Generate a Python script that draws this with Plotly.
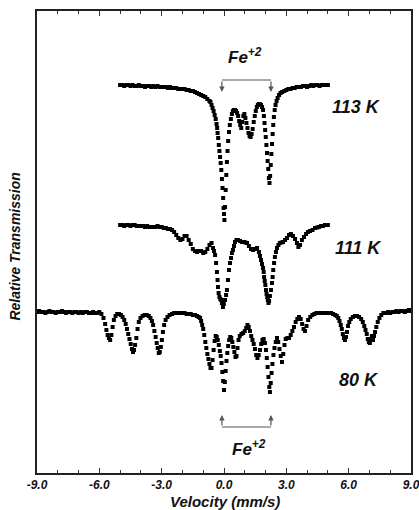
import plotly.graph_objects as go

# ---------------- data (velocity in mm/s, relative transmission in %) -------------
v113 = [-5.0,-4.9,-4.8,-4.7,-4.6,-4.5,-4.4,-4.3,-4.2,-4.1,-4.0,-3.9,-3.8,-3.7,-3.6,-3.5,-3.4,-3.3,-3.2,-3.1,
        -3.0,-2.9,-2.8,-2.7,-2.6,-2.5,-2.4,-2.3,-2.2,-2.1,-2.0,-1.9,-1.8,-1.7,-1.6,-1.5,-1.4,-1.3,-1.2,-1.1,
        -1.0,-0.9,-0.8,-0.7,-0.65,-0.6,-0.55,-0.5,-0.45,-0.4,-0.36,-0.33,-0.31,-0.28,-0.25,-0.22,-0.19,-0.16,
        -0.13,-0.10,-0.07,-0.04,-0.02,0.00,0.02,0.05,0.08,0.11,0.14,0.17,0.20,0.24,0.28,0.33,0.38,0.43,0.48,
        0.53,0.58,0.63,0.68,0.73,0.78,0.83,0.88,0.93,0.98,1.03,1.08,1.13,1.18,1.23,1.28,1.33,1.38,1.43,1.48,
        1.53,1.58,1.63,1.68,1.73,1.78,1.83,1.88,1.92,1.95,1.98,2.01,2.04,2.07,2.10,2.13,2.16,2.19,2.22,2.25,
        2.28,2.31,2.34,2.37,2.40,2.44,2.48,2.53,2.58,2.65,2.72,2.8,2.9,3.0,3.1,3.2,3.3,3.4,3.5,3.6,3.7,3.8,
        3.9,4.0,4.1,4.2,4.3,4.4,4.5,4.6,4.7,4.8,4.9,5.0]
t113 = [100.0,100.0,99.9,100.0,100.0,99.9,100.0,99.9,99.9,100.0,99.9,99.9,99.8,99.9,99.9,99.8,99.9,99.8,99.9,99.8,
        99.8,99.8,99.8,99.7,99.8,99.7,99.7,99.7,99.6,99.6,99.6,99.6,99.5,99.5,99.4,99.4,99.3,99.2,99.1,99.0,
        98.9,98.8,98.6,98.4,98.3,98.0,97.7,97.4,97.0,96.6,96.1,95.7,95.2,94.7,94.0,93.4,92.8,92.2,
        91.5,90.6,89.7,88.7,87.7,87.1,86.5,87.8,89.5,91.0,92.3,93.4,94.4,95.3,96.0,96.6,97.1,97.4,97.5,
        97.5,97.4,97.2,96.9,96.4,96.0,95.7,96.3,96.9,97.1,96.7,96.2,95.7,95.2,94.9,94.8,95.1,95.6,96.3,96.9,
        97.4,97.8,98.0,98.1,98.1,98.0,97.8,97.5,96.9,96.2,95.5,94.8,94.0,93.2,92.4,91.6,90.7,90.2,90.9,92.0,
        93.1,94.1,95.1,96.0,96.8,97.5,98.0,98.4,98.7,99.0,99.2,99.3,99.4,99.5,99.6,99.6,99.7,99.7,99.8,99.8,99.8,99.9,
        99.9,99.8,99.9,100.0,99.9,100.0,100.0,99.9,100.0,100.0,100.0,100.0]

v111 = [-5.0,-4.9,-4.8,-4.7,-4.6,-4.5,-4.4,-4.3,-4.2,-4.1,-4.0,-3.9,-3.8,-3.7,-3.6,-3.5,-3.4,-3.3,-3.2,-3.1,
        -3.0,-2.9,-2.8,-2.7,-2.6,-2.5,-2.4,-2.3,-2.2,-2.1,-2.0,-1.9,-1.8,-1.7,-1.6,-1.5,-1.4,-1.3,-1.2,-1.1,
        -1.0,-0.9,-0.8,-0.7,-0.6,-0.53,-0.48,-0.43,-0.38,-0.34,-0.31,-0.29,-0.26,-0.22,-0.18,-0.14,-0.10,-0.05,
        -0.01,0.05,0.10,0.14,0.19,0.24,0.29,0.34,0.38,0.43,0.48,0.53,0.60,0.67,0.77,0.87,0.96,1.03,1.11,1.20,
        1.30,1.40,1.49,1.59,1.68,1.73,1.78,1.83,1.88,1.91,1.93,1.96,1.99,2.02,2.05,2.08,2.11,2.14,2.17,2.21,
        2.26,2.31,2.34,2.37,2.41,2.45,2.50,2.55,2.62,2.69,2.77,2.84,2.94,3.03,3.13,3.22,3.32,3.42,3.51,3.58,
        3.66,3.75,3.85,3.95,4.04,4.14,4.26,4.38,4.48,4.57,4.67,4.76,4.86,4.96,5.0]
t111 = [100.0,100.0,99.9,100.0,100.0,99.9,100.0,100.0,99.9,99.9,99.9,99.9,99.8,99.9,99.8,99.8,99.8,99.8,99.9,99.8,
        99.8,99.7,99.7,99.6,99.6,99.5,99.3,99.0,98.7,98.5,98.6,98.9,98.9,98.5,98.1,97.6,97.4,97.3,97.4,97.4,
        97.2,97.3,97.6,98.0,98.2,97.7,97.4,97.0,96.2,95.3,94.5,93.8,93.2,92.8,92.6,92.5,92.2,91.8,
        92.1,92.5,93.0,93.5,94.5,95.5,96.2,96.7,97.2,97.5,97.9,98.3,98.5,98.5,98.4,98.3,98.3,98.25,98.2,97.9,
        97.6,97.5,97.6,97.7,97.3,96.9,96.5,96.1,95.7,95.3,94.8,94.4,94.0,93.5,93.1,92.8,92.5,92.2,92.4,92.9,
        93.5,94.2,94.8,95.5,96.2,96.8,97.3,97.7,98.0,98.2,98.25,98.3,98.5,98.7,99.0,99.1,98.9,98.6,98.2,97.8,
        98.0,98.5,98.8,99.1,99.3,99.4,99.5,99.7,99.75,99.8,99.9,99.9,100.0,100.0,100.0]

v80 = [-9.0,-8.9,-8.8,-8.7,-8.6,-8.5,-8.4,-8.3,-8.2,-8.1,-8.0,-7.9,-7.8,-7.7,-7.6,-7.5,-7.4,-7.3,-7.2,-7.1,
       -7.0,-6.9,-6.8,-6.7,-6.6,-6.5,-6.4,-6.3,-6.2,-6.1,-6.0,
       -5.9,-5.8,-5.72,-5.66,-5.60,-5.54,-5.48,-5.42,-5.36,-5.30,-5.22,-5.14,-5.05,-4.96,-4.88,-4.80,-4.73,
       -4.67,-4.61,-4.55,-4.49,-4.43,-4.38,-4.33,-4.28,-4.22,-4.16,-4.10,-4.02,-3.92,-3.82,-3.72,-3.62,-3.54,
       -3.47,-3.41,-3.35,-3.29,-3.24,-3.19,-3.14,-3.09,-3.04,-2.99,-2.94,-2.88,-2.81,-2.72,-2.62,-2.5,-2.4,
       -2.3,-2.2,-2.1,-2.0,-1.9,-1.8,-1.7,-1.6,-1.5,-1.4,-1.3,-1.22,-1.15,-1.10,-1.05,-1.00,-0.95,-0.90,-0.85,
       -0.80,-0.75,-0.70,-0.65,-0.60,-0.55,-0.50,-0.45,-0.40,-0.35,-0.30,-0.25,-0.20,-0.16,-0.12,-0.08,-0.04,
       0.00,0.04,0.08,0.12,0.16,0.20,0.25,0.30,0.35,0.40,0.45,0.50,0.55,0.60,0.65,0.70,0.76,0.84,0.92,1.00,
       1.07,1.13,1.19,1.25,1.31,1.37,1.43,1.49,1.55,1.61,1.67,1.73,1.79,1.85,1.91,1.97,2.02,2.06,2.10,2.14,
       2.18,2.21,2.25,2.29,2.33,2.38,2.43,2.49,2.55,2.61,2.67,2.73,2.79,2.85,2.91,2.97,3.05,3.13,3.21,3.29,
       3.37,3.45,3.53,3.61,3.69,3.76,3.83,3.90,3.97,4.05,4.15,4.25,4.35,4.45,4.55,4.65,4.75,4.85,4.95,5.05,
       5.15,5.25,5.35,5.43,5.50,5.56,5.62,5.67,5.72,5.77,5.82,5.87,5.92,5.97,6.03,6.10,6.2,6.3,6.4,6.5,6.6,
       6.68,6.75,6.81,6.87,6.92,6.97,7.02,7.07,7.12,7.17,7.22,7.27,7.33,7.40,7.48,7.57,7.67,7.8,7.9,8.0,8.1,
       8.2,8.3,8.4,8.5,8.6,8.7,8.8,8.9,9.0]
t80 = [100.0,100.1,100.0,100.0,99.9,100.0,100.1,100.0,100.0,99.9,100.0,100.0,100.1,100.0,99.9,100.0,100.0,99.9,100.0,100.0,
       99.9,100.0,99.9,100.0,100.0,99.9,99.9,100.0,99.9,99.9,100.0,
       99.8,99.4,98.8,98.2,97.7,97.4,97.2,97.7,98.5,99.2,99.6,99.8,99.8,99.7,99.5,99.2,98.8,
       98.3,97.8,97.3,96.8,96.3,96.0,96.2,96.7,97.4,98.3,99.0,99.4,99.6,99.7,99.7,99.6,99.4,
       99.1,98.7,98.1,97.5,96.9,96.4,95.9,96.0,96.5,97.2,98.0,98.7,99.2,99.5,99.7,99.8,99.9,
       99.9,99.9,99.9,99.9,99.9,99.8,99.8,99.8,99.7,99.7,99.6,99.5,99.4,99.1,98.7,98.3,97.7,97.0,96.4,
       95.8,95.3,94.8,94.4,94.4,95.2,96.2,97.1,97.6,97.5,97.2,96.7,96.1,95.6,94.9,94.0,93.1,
       92.2,93.0,94.1,95.1,95.9,96.6,97.2,97.5,97.4,97.0,96.5,96.0,95.5,95.6,96.4,97.2,97.6,97.8,97.9,98.1,
       98.4,98.7,98.5,98.1,97.6,97.2,96.8,96.3,95.7,95.4,95.7,96.2,96.8,97.2,97.3,96.9,96.2,95.4,94.5,93.5,
       92.5,92.0,92.9,93.9,94.8,95.7,96.4,97.0,97.4,97.0,96.3,95.6,95.0,95.8,96.7,97.3,97.4,97.4,97.7,98.1,
       98.5,99.0,99.3,99.5,99.3,98.8,98.3,98.1,98.6,99.2,99.5,99.7,99.8,99.9,99.9,99.9,99.9,99.9,99.9,99.9,
       99.9,99.8,99.7,99.6,99.4,99.1,98.7,98.3,97.8,97.4,97.2,97.5,98.0,98.6,99.0,99.3,99.5,99.6,99.6,99.5,99.3,
       99.0,98.6,98.2,97.8,97.3,97.0,96.9,97.3,97.6,97.2,97.6,98.0,98.5,99.0,99.4,99.7,99.9,99.9,100.0,99.9,100.0,
       100.0,100.1,100.0,100.1,100.1,100.0,100.1,100.2,100.1]

offsets = {"113 K": 0.0, "111 K": -14.0, "80 K": -22.7}
label_pos = {"113 K": (6.4, 97.8), "111 K": (6.45, 83.7), "80 K": (6.5, 70.5)}
tick_vals = [-9, -6, -3, 0, 3, 6, 9]
tick_text = ["-9.0", "-6.0", "-3.0", "0.0", "3.0", "6.0", "9.0"]
fe_lines = [-0.10, 2.26]   # Fe+2 doublet positions (mm/s)

series = [("113 K", v113, t113), ("111 K", v111, t111), ("80 K", v80, t80)]

FONT = "Liberation Sans, Arial, sans-serif"
fig = go.Figure()
for name, vv, tt in series:
    off = offsets[name]
    fig.add_trace(go.Scatter(
        x=vv, y=[t + off for t in tt], mode="markers", name=name,
        marker=dict(symbol="square", size=4, color="black", line=dict(width=0)),
        showlegend=False, hoverinfo="skip"))

for name, (lx, ly) in label_pos.items():
    fig.add_annotation(x=lx, y=ly, xref="x", yref="y", text=f"<b><i>{name}</i></b>",
                       xanchor="center", yanchor="middle",
                       showarrow=False, font=dict(family=FONT, size=18, color="#111"))

# Fe+2 brackets
gray = "#8c8c8c"
top_h, top_tip = 100.5, 99.3
bot_h, bot_tip = 65.8, 67.0
fig.add_shape(type="line", x0=fe_lines[0], x1=fe_lines[1], y0=top_h, y1=top_h,
              xref="x", yref="y", line=dict(color=gray, width=1.3))
fig.add_shape(type="line", x0=fe_lines[0], x1=fe_lines[1], y0=bot_h, y1=bot_h,
              xref="x", yref="y", line=dict(color=gray, width=1.3))
for fx in fe_lines:
    fig.add_annotation(x=fx, y=top_tip, ax=fx, ay=top_h, xref="x", yref="y", axref="x", ayref="y",
                       text="", showarrow=True, arrowhead=2, arrowsize=0.9, arrowwidth=1.2, arrowcolor="#555")
    fig.add_annotation(x=fx, y=bot_tip, ax=fx, ay=bot_h, xref="x", yref="y", axref="x", ayref="y",
                       text="", showarrow=True, arrowhead=2, arrowsize=0.9, arrowwidth=1.2, arrowcolor="#555")
fig.add_annotation(x=1.03, y=101.6, xref="x", yref="y", yanchor="bottom", xanchor="center", showarrow=False,
                   text="<b><i>Fe<sup>+2</sup></i></b>", font=dict(family=FONT, size=17, color="#111"))
fig.add_annotation(x=1.2, y=62.4, xref="x", yref="y", yanchor="bottom", xanchor="center", showarrow=False,
                   text="<b><i>Fe<sup>+2</sup></i></b>", font=dict(family=FONT, size=17, color="#111"))

# axis titles
fig.add_annotation(x=0.503, y=-0.061, xref="paper", yref="paper", showarrow=False,
                   xanchor="center", yanchor="middle",
                   text="<b><i>Velocity (mm/s)</i></b>", font=dict(family=FONT, size=15, color="#111"))
fig.add_annotation(x=-0.059, y=0.49, xref="paper", yref="paper", showarrow=False, textangle=-90,
                   xanchor="center", yanchor="middle",
                   text="<b><i>Relative Transmission</i></b>", font=dict(family=FONT, size=14, color="#111"))

fig.update_layout(
    width=419, height=510, margin=dict(l=37, r=8, t=11, b=37, autoexpand=False),
    paper_bgcolor="white", plot_bgcolor="white",
    xaxis=dict(range=[-9, 9], tickvals=tick_vals, ticktext=[f"<b><i>{t}</i></b>" for t in tick_text],
               ticks="inside", ticklen=5, automargin=False, ticklabeloverflow="allow",
               tickwidth=1.2, tickcolor="#333", showline=True, linecolor="#222", linewidth=1.5,
               mirror="ticks", showgrid=False, zeroline=False,
               tickfont=dict(family=FONT, size=12, color="#111"),
               minor=dict(dtick=1, tick0=0, ticks="inside", ticklen=3, tickwidth=1, tickcolor="#333", showgrid=False)),
    yaxis=dict(range=[61.2, 107.4], showticklabels=False, ticks="", showline=True, linecolor="#222",
               linewidth=1.5, mirror=True, showgrid=False, zeroline=False, automargin=False),
)
fig.write_html("out.html")
